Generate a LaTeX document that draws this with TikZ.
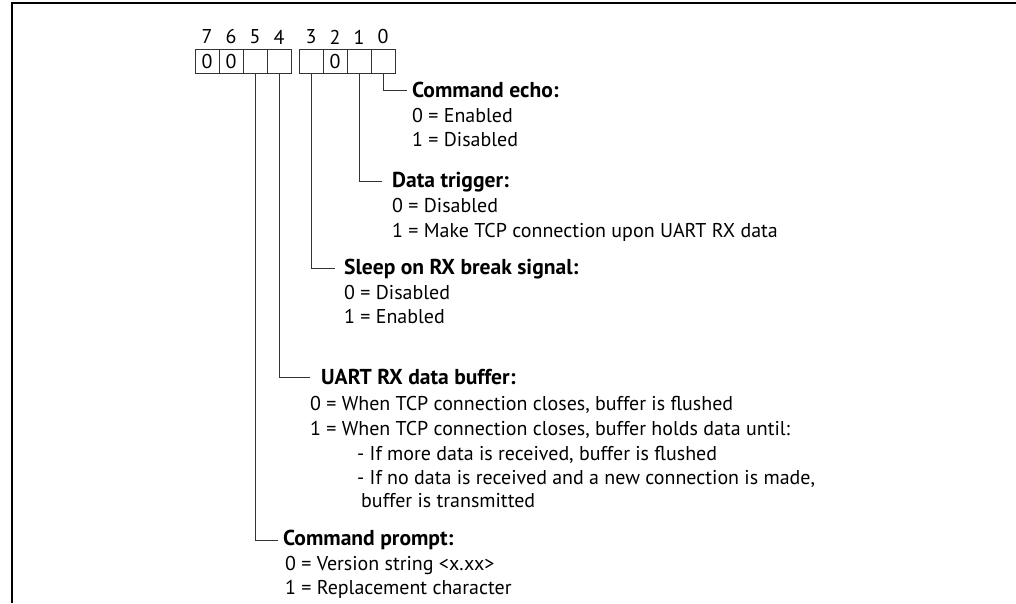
\documentclass[tikz,border=0pt]{standalone}
\usepackage{fontspec}
\setmainfont{PT Sans}
\newlength\calA
\newlength\calB
% calibrate font sizes to the widths measured in the reference
\AtBeginDocument{%
  \settowidth\calA{\fontsize{10}{12}\selectfont buffer is transmitted}%
  \settowidth\calB{\fontsize{10}{12}\selectfont\bfseries Sleep on RX break signal:}%
  \pgfmathsetmacro\tmpbody{10*174/\calA}\global\let\bodysize\tmpbody
  \pgfmathsetmacro\tmptitle{min(10*236/\calB, 1.08*\bodysize)}\global\let\titlesize\tmptitle
}
\begin{document}
\begin{tikzpicture}[x=1pt,y=-1pt,
  txt/.style={inner sep=0pt, font=\fontsize{\bodysize}{24}\selectfont},
  bit/.style={txt, draw=black!80, line width=0.9pt, minimum width=24pt, minimum height=24pt},
  num/.style={txt},
  title/.style={txt, anchor=base west, font=\fontsize{\titlesize}{24}\selectfont\bfseries},
  body/.style={txt, anchor=base west},
  conn/.style={draw=black!80, line width=0.9pt},
  frame/.style={draw=black, line width=1.8pt}]
\useasboundingbox (0,0) rectangle (1016,603);
\draw[frame] (12,603) -- (12,3.2) -- (1016,3.2);

% bit boxes
\node[bit] (b7) at (207,61.3) {0};
\node[bit] (b6) at (231,61.3) {0};
\node[bit] (b5) at (255,61.3) {};
\node[bit] (b4) at (279,61.3) {};
\node[bit] (b3) at (311,61.3) {};
\node[bit] (b2) at (335,61.3) {0};
\node[bit] (b1) at (359,61.3) {};
\node[bit] (b0) at (383,61.3) {};
% bit numbers
\node[num] (n7) at (207,37) {7};
\node[num] (n6) at (231,37) {6};
\node[num] (n5) at (255,37) {5};
\node[num] (n4) at (279,37) {4};
\node[num] (n3) at (311,37) {3};
\node[num] (n2) at (335,37) {2};
\node[num] (n1) at (359,37) {1};
\node[num] (n0) at (383,37) {0};

% Command echo
\node[title] (echoT) at (412,97.5) {Command echo:};
\node[body] (echo0) at (412,122.5) {0 = Enabled};
\node[body] (echo1) at (412,146.5) {1 = Disabled};
% Data trigger
\node[title] (dataT) at (392,187) {Data trigger:};
\node[body] (data0) at (392,212) {0 = Disabled};
\node[body] (data1) at (392,237) {1 = Make TCP connection upon UART RX data};
% Sleep
\node[title] (sleepT) at (344,274) {Sleep on RX break signal:};
\node[body] (sleep0) at (344,299.5) {0 = Disabled};
\node[body] (sleep1) at (344,323.5) {1 = Enabled};
% UART
\node[title] (uartT) at (321,384.5) {UART RX data buffer:};
\node[body] (uart0) at (310,410.5) {0 = When TCP connection closes, buffer is flushed};
\node[body] (uart1) at (310,435.5) {1 = When TCP connection closes, buffer holds data until:};
\node[body] (uart2) at (357,460.5) {- If more data is received, buffer is flushed};
\node[body] (uart3) at (357,484.5) {- If no data is received and a new connection is made,};
\node[body] (uart4) at (361,507.5) {buffer is transmitted};
% Command prompt
\node[title] (promptT) at (283,545.5) {Command prompt:};
\node[body] (prompt0) at (285,570.5) {0 = Version string <x.xx>};
\node[body] (prompt1) at (285,594.5) {1 = Replacement character};

% connectors
\draw[conn] (b0.south) |- ([xshift=-5pt]echoT.west);
\draw[conn] (b1.south) |- ([xshift=-10pt]dataT.west);
\draw[conn] (b3.south) |- ([xshift=-9pt]sleepT.west);
\draw[conn] (b4.south) |- ([xshift=-11pt]uartT.west);
\draw[conn] (b5.south) |- ([xshift=-5pt]promptT.west);
\end{tikzpicture}
\end{document}
